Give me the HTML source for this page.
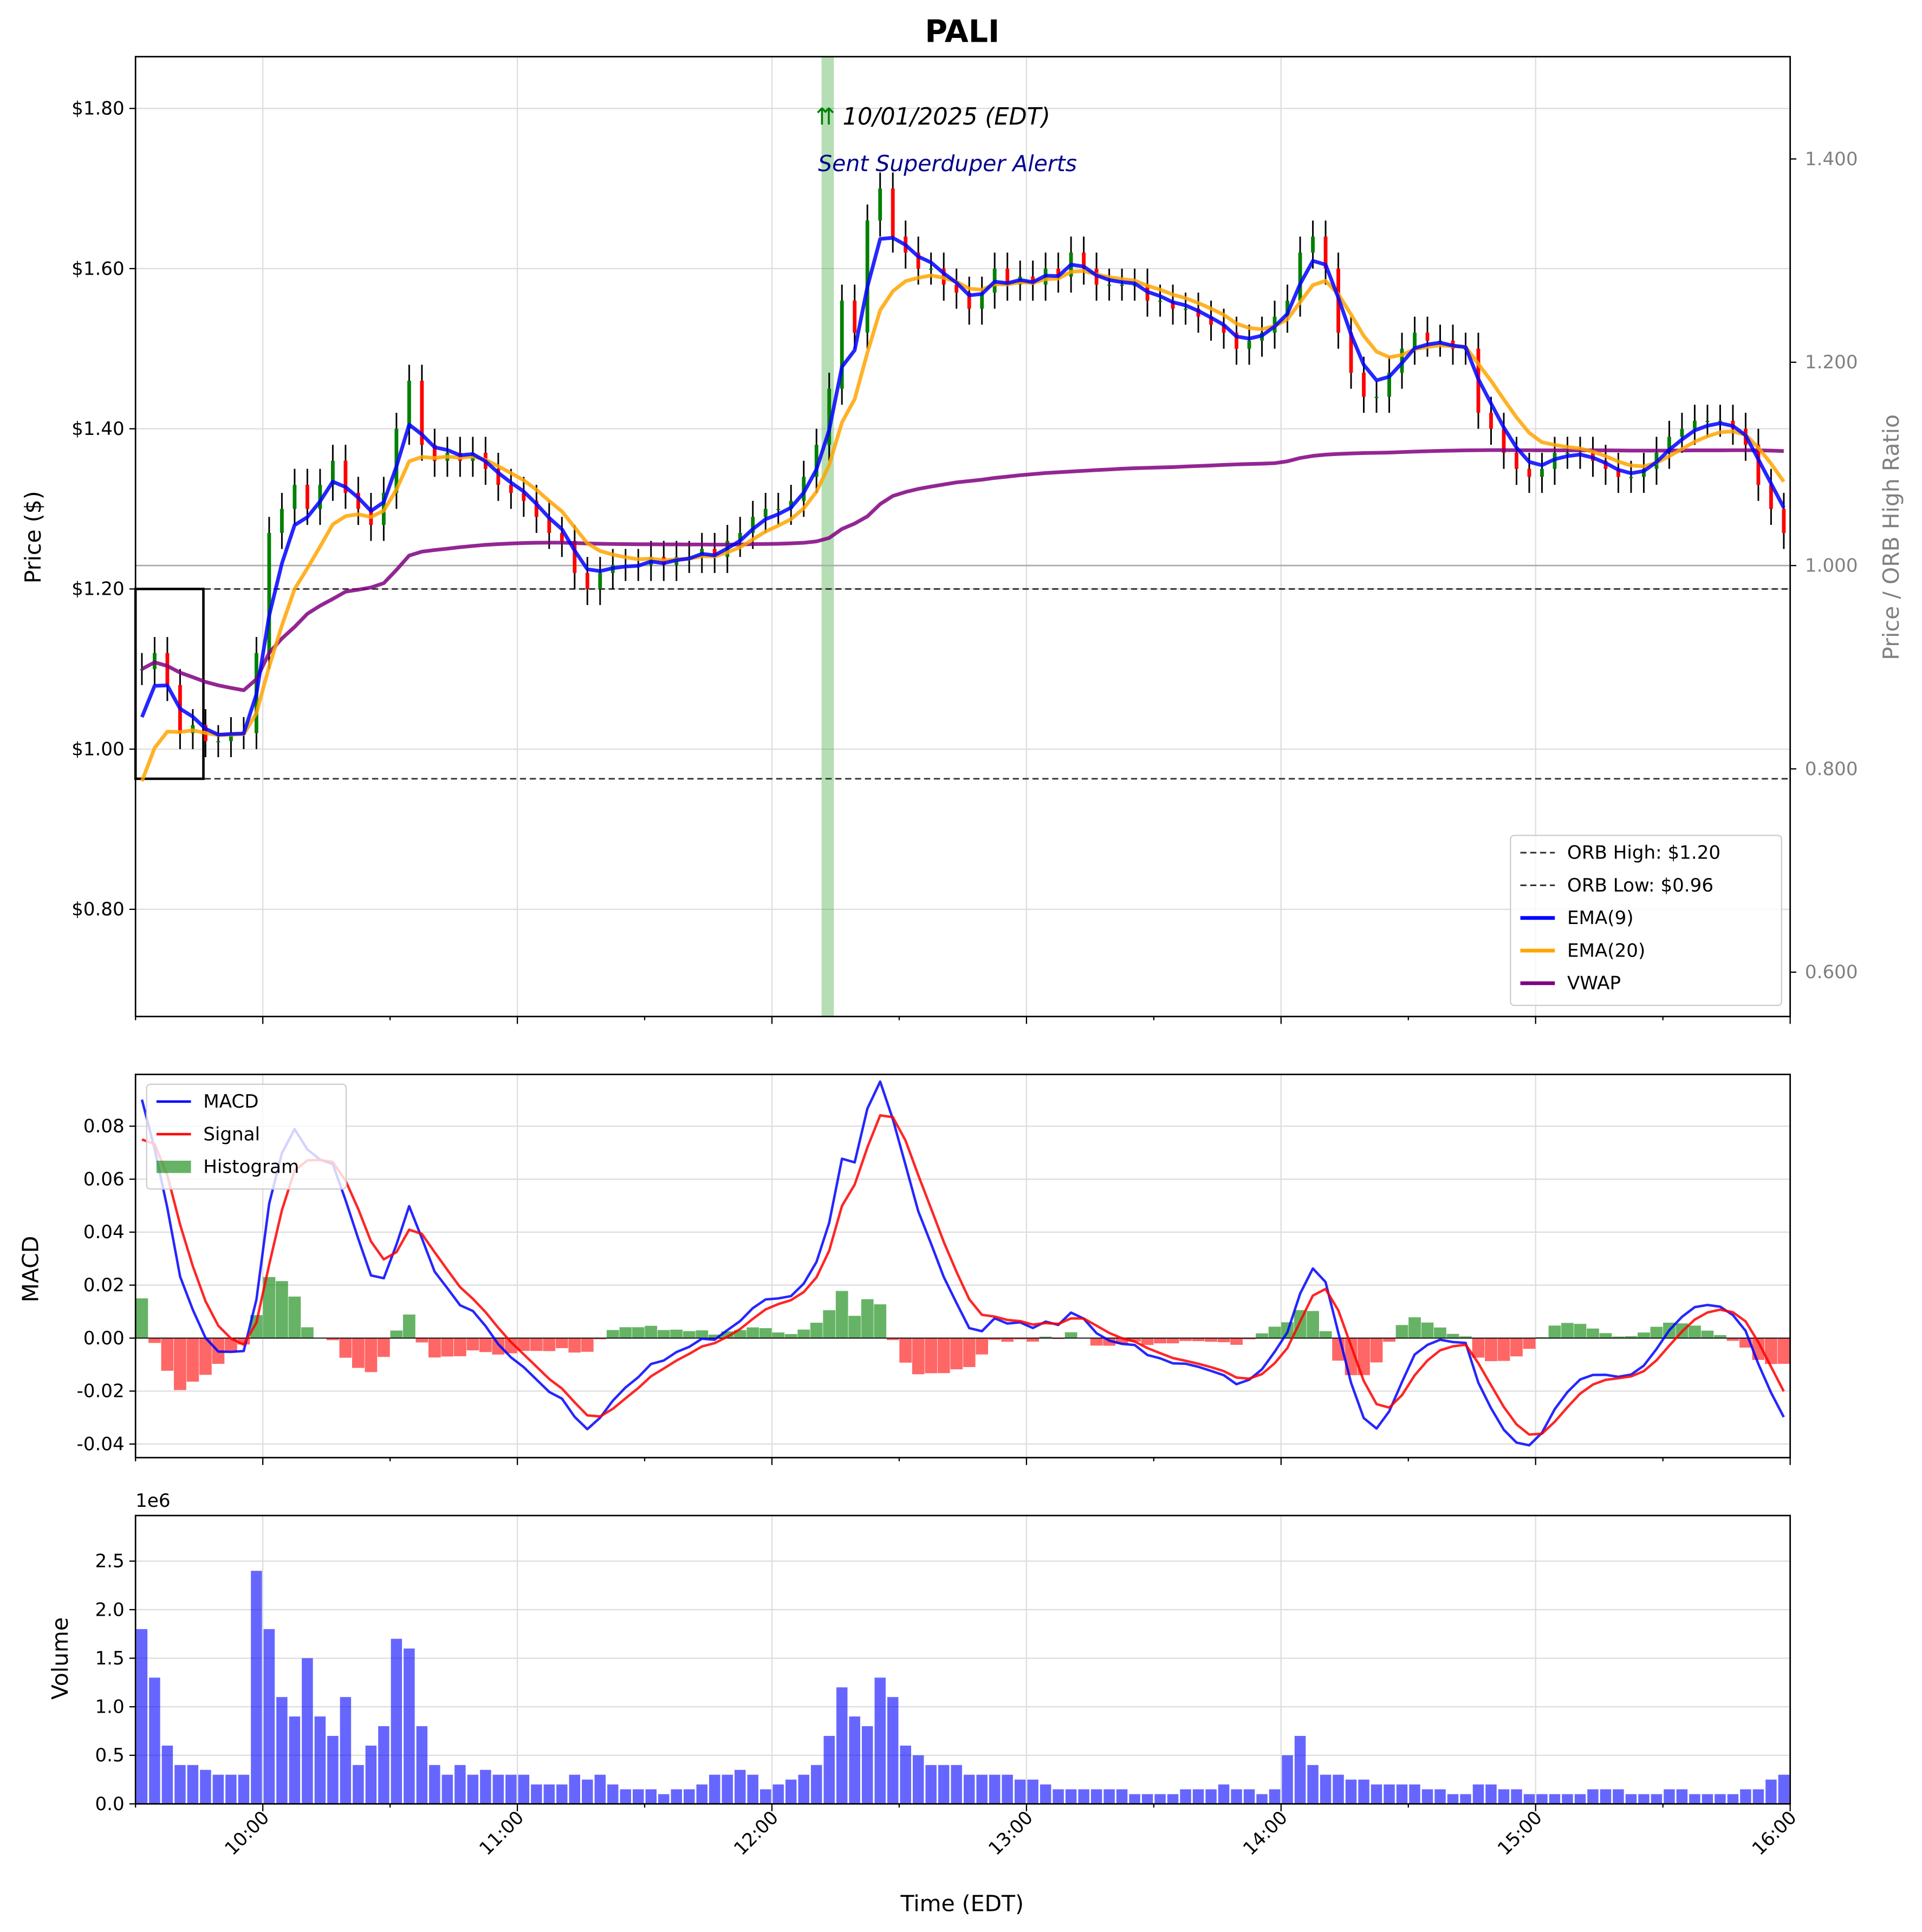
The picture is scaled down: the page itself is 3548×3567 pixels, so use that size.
<!DOCTYPE html>
<html><head><meta charset="utf-8"><style>html,body{margin:0;padding:0;background:#fff}svg{display:block}text{font-family:"DejaVu Sans","Liberation Sans",sans-serif}</style></head>
<body>
<svg id="chart" xmlns="http://www.w3.org/2000/svg" width="3548" height="3567" viewBox="0 0 1560 1568" preserveAspectRatio="none">
<rect width="1560" height="1568" fill="#fff"/>
<text x="781" y="34" font-size="25" font-weight="bold" text-anchor="middle">PALI</text>
<g id="g"></g>
</svg>
<script>
// 3-minute bars from 9:30
const closes=[1.10,1.12,1.08,1.02,1.03,1.01,1.01,1.02,1.02,1.12,
1.27,1.30,1.33,1.30,1.33,1.36,1.32,1.30,1.28,1.32,
1.40,1.46,1.38,1.36,1.37,1.36,1.37,1.35,1.33,1.32,
1.31,1.29,1.27,1.26,1.22,1.20,1.22,1.23,1.23,1.23,
1.24,1.23,1.24,1.24,1.25,1.24,1.26,1.27,1.29,1.30,
1.30,1.31,1.34,1.38,1.45,1.56,1.52,1.66,1.70,1.64,
1.62,1.60,1.60,1.58,1.57,1.55,1.57,1.60,1.58,1.59,
1.58,1.60,1.59,1.62,1.60,1.58,1.58,1.58,1.58,1.56,
1.56,1.55,1.55,1.54,1.53,1.52,1.50,1.51,1.52,1.54,
1.56,1.62,1.64,1.60,1.52,1.47,1.44,1.44,1.47,1.50,
1.52,1.51,1.51,1.50,1.50,1.42,1.40,1.37,1.35,1.34,
1.35,1.37,1.37,1.37,1.36,1.35,1.34,1.34,1.35,1.37,
1.39,1.40,1.41,1.41,1.41,1.40,1.38,1.33,1.30,1.27];
const volumes=[1.8,1.3,0.6,0.4,0.4,0.35,0.3,0.3,0.3,2.4,
1.8,1.1,0.9,1.5,0.9,0.7,1.1,0.4,0.6,0.8,
1.7,1.6,0.8,0.4,0.3,0.4,0.3,0.35,0.3,0.3,
0.3,0.2,0.2,0.2,0.3,0.25,0.3,0.2,0.15,0.15,
0.15,0.1,0.15,0.15,0.2,0.3,0.3,0.35,0.3,0.15,
0.2,0.25,0.3,0.4,0.7,1.2,0.9,0.8,1.3,1.1,
0.6,0.5,0.4,0.4,0.4,0.3,0.3,0.3,0.3,0.25,
0.25,0.2,0.15,0.15,0.15,0.15,0.15,0.15,0.1,0.1,
0.1,0.1,0.15,0.15,0.15,0.2,0.15,0.15,0.1,0.15,
0.5,0.7,0.4,0.3,0.3,0.25,0.25,0.2,0.2,0.2,
0.2,0.15,0.15,0.1,0.1,0.2,0.2,0.15,0.15,0.1,
0.1,0.1,0.1,0.1,0.15,0.15,0.15,0.1,0.1,0.1,
0.15,0.15,0.1,0.1,0.1,0.1,0.15,0.15,0.25,0.3];
const priceTicks=[0.8,1.0,1.2,1.4,1.6,1.8];
const ratioTicks=[0.6,0.8,1.0,1.2,1.4];
const macdTicks=[-0.04,-0.02,0,0.02,0.04,0.06,0.08];
const volTicks=[0,0.5,1.0,1.5,2.0,2.5];
const hourLabels=["10:00","11:00","12:00","13:00","14:00","15:00","16:00"];
const orbHigh=1.20, orbLow=0.963, alertMin=163;

const NS="http://www.w3.org/2000/svg", G=document.getElementById('g');
function el(tag,attrs,parent,txt){const e=document.createElementNS(NS,tag);for(const k in attrs)e.setAttribute(k,attrs[k]);if(txt!==undefined)e.textContent=txt;(parent||G).appendChild(e);return e;}
const X0=110,X1=1453,PX=(X1-X0)/390;
const xm=m=>X0+m*PX;
const yP=p=>608-(p-1)*650;
const yR=r=>459-(r-1)*825;
const yM=v=>1086-v*2150;
const yV=v=>1464-v*78.8;
const panels=[[46,825],[872,1183],[1230,1464]];
panels.forEach(([a,b],pi)=>{for(let h=1;h<=6;h++){const l=el('line',{x1:xm(h*60-30),x2:xm(h*60-30),y1:a,y2:b,stroke:'#ddd','stroke-width':1});}});
priceTicks.forEach(p=>{const l=el('line',{x1:X0,x2:X1,y1:yP(p),y2:yP(p),stroke:'#ddd'});
 const t=el('text',{x:X0-9,y:yP(p)+5,'font-size':15,'text-anchor':'end'},G,'$'+p.toFixed(2));
 el('line',{x1:X0-5,x2:X0,y1:yP(p),y2:yP(p),stroke:'#000'});});
ratioTicks.forEach(r=>{const t=el('text',{x:X1+12,y:yR(r)+5,'font-size':15,fill:'#808080'},G,r.toFixed(3));el('line',{x1:X1,x2:X1+5,y1:yR(r),y2:yR(r),stroke:'#000'});});
macdTicks.forEach(v=>{const l=el('line',{x1:X0,x2:X1,y1:yM(v),y2:yM(v),stroke:'#ddd'});
 const t=el('text',{x:X0-9,y:yM(v)+5,'font-size':15,'text-anchor':'end'},G,v.toFixed(2));el('line',{x1:X0-5,x2:X0,y1:yM(v),y2:yM(v),stroke:'#000'});});
volTicks.forEach(v=>{const l=el('line',{x1:X0,x2:X1,y1:yV(v),y2:yV(v),stroke:'#ddd'});
 const t=el('text',{x:X0-9,y:yV(v)+5,'font-size':15,'text-anchor':'end'},G,v.toFixed(1));el('line',{x1:X0-5,x2:X0,y1:yV(v),y2:yV(v),stroke:'#000'});});
const N=closes.length;
function ema(arr,span,init){const a1=2/(span+1),a=1-Math.pow(1-a1,3);const o=[];arr.forEach((v,i)=>o.push(i?o[i-1]+a*(v-o[i-1]):(init!==undefined?init:v)));return o;}
const e9=ema(closes,9,1.04),e20=ema(closes,20,0.96);
const vw=[];let pv=0,vv=0;closes.forEach((c,i)=>{pv+=c*volumes[i];vv+=volumes[i];vw.push(pv/vv);});
const e12=ema(closes,12,1.12),e26=ema(closes,26,1.03);const macd=e12.map((v,i)=>v-e26[i]);const sig=ema(macd,9,0.075);
const bx=i=>xm(i*3+1.5);
const band=el('rect',{x:xm(alertMin)-4.5,y:46,width:10,height:779,fill:'#2ca02c','fill-opacity':0.35});
el('line',{x1:X0,x2:X1,y1:yR(1),y2:yR(1),stroke:'#aaa','stroke-width':1.2});
let l1=el('line',{x1:X0,x2:X1,y1:yP(orbHigh),y2:yP(orbHigh),stroke:'#333','stroke-dasharray':'5,3','stroke-width':1.3});
let l2=el('line',{x1:X0,x2:X1,y1:yP(orbLow),y2:yP(orbLow),stroke:'#333','stroke-dasharray':'5,3','stroke-width':1.3});
let ob=el('rect',{x:X0,y:yP(orbHigh),width:xm(16)-X0,height:yP(orbLow)-yP(orbHigh),fill:'none',stroke:'#000','stroke-width':2});
closes.forEach((c,i)=>{const o=i?closes[i-1]:c;const hi=Math.max(o,c)+0.02,lo=Math.min(o,c)-0.02;const x=bx(i);
 const w=el('line',{x1:x,x2:x,y1:yP(hi),y2:yP(lo),stroke:'#000','stroke-width':1.3});
 const b=el('rect',{x:x-1.5,y:yP(Math.max(o,c)),width:3,height:Math.max(1,Math.abs(yP(o)-yP(c))),fill:c>=o?'#008000':'#ff0000'});});
function line(arr,yf,color,w,name){const d=arr.map((v,i)=>(i?'L':'M')+bx(i).toFixed(1)+','+yf(v).toFixed(1)).join('');const p=el('path',{d:d,fill:'none',stroke:color,'stroke-width':w,'stroke-opacity':0.85,'stroke-linejoin':'round'});}
line(vw,yP,'#800080',3,'vwap-line');line(e20,yP,'#ffa500',3,'ema20-line');line(e9,yP,'#0000ff',3,'ema9-line');
const a1=el('text',{x:662,y:101,'font-size':19,'font-style':'italic',fill:'#000'},G,'');
el('tspan',{fill:'#008000','font-style':'normal'},a1,'⇈');el('tspan',{},a1,' 10/01/2025 (EDT)');
const a2=el('text',{x:664,y:139,'font-size':18,'font-style':'italic',fill:'#00008b'},G,'Sent Superduper Alerts');
macd.forEach((m,i)=>{const h=m-sig[i];const r=el('rect',{x:bx(i)-5,y:Math.min(yM(0),yM(h)),width:10,height:Math.abs(yM(h)-yM(0)),fill:h>=0?'#008000':'#ff0000','fill-opacity':0.6});});
el('line',{x1:X0,x2:X1,y1:yM(0),y2:yM(0),stroke:'#000','stroke-width':0.8});
line(macd,yM,'#0000ff',2,'macd-line');line(sig,yM,'#ff0000',2,'signal-line');
volumes.forEach((v,i)=>{const r=el('rect',{x:bx(i)-4.5,y:yV(v),width:9,height:yV(0)-yV(v),fill:'#0000ff','fill-opacity':0.6});});
el('text',{x:X0,y:1223,'font-size':15},G,'1e6');
panels.forEach(([a,b],pi)=>{const f=el('rect',{x:X0,y:a,width:X1-X0,height:b-a,fill:'none',stroke:'#000','stroke-width':1.2});
 for(let m=0;m<=390;m+=30){el('line',{x1:xm(m),x2:xm(m),y1:b,y2:b+(m%60==30?6:3),stroke:'#000'});}});
hourLabels.forEach((h,i)=>{const x=xm(30+60*i)+6,y=1476;const t=el('text',{x:x,y:y,'font-size':15,'text-anchor':'end',transform:`rotate(-45 ${x} ${y})`},G,h);});
el('text',{x:781,y:1551,'font-size':18,'text-anchor':'middle'},G,'Time (EDT)');
el('text',{x:33,y:436,'font-size':18,'text-anchor':'middle',transform:'rotate(-90 33 436)'},G,'Price ($)');
el('text',{x:31,y:1030,'font-size':18,'text-anchor':'middle',transform:'rotate(-90 31 1030)'},G,'MACD');
el('text',{x:55,y:1346,'font-size':18,'text-anchor':'middle',transform:'rotate(-90 55 1346)'},G,'Volume');
el('text',{x:1541,y:436,'font-size':18,'text-anchor':'middle',fill:'#808080',transform:'rotate(-90 1541 436)'},G,'Price / ORB High Ratio');
function legend(x,y,w,h,items,name){const g=el('g',{});
 el('rect',{x:x,y:y,width:w,height:h,fill:'#fff','fill-opacity':0.8,stroke:'#ccc',rx:3},g);
 items.forEach((it,i)=>{const yy=y+14+i*26.5;
  if(it.box)el('rect',{x:x+8,y:yy-5,width:28,height:10,fill:it.c,'fill-opacity':0.6},g);
  else el('line',{x1:x+8,x2:x+36,y1:yy,y2:yy,stroke:it.c,'stroke-width':it.w,'stroke-dasharray':it.d||'none'},g);
  el('text',{x:x+46,y:yy+5,'font-size':15},g,it.t);});}
legend(1226,678,220,138,[{c:'#333',w:1.3,d:'5,3',t:'ORB High: $1.20'},{c:'#333',w:1.3,d:'5,3',t:'ORB Low: $0.96'},{c:'#0000ff',w:3,t:'EMA(9)'},{c:'#ffa500',w:3,t:'EMA(20)'},{c:'#800080',w:3,t:'VWAP'}],'price-legend');
legend(119,880,162,85,[{c:'#0000ff',w:2,t:'MACD'},{c:'#ff0000',w:2,t:'Signal'},{c:'#008000',box:1,t:'Histogram'}],'macd-legend');
</script>
</body></html>
